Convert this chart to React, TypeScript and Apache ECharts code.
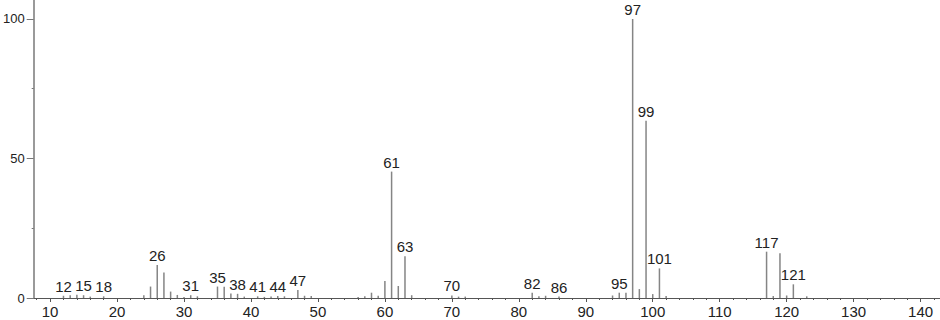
import React, { useEffect, useRef } from "react";
import * as echarts from "echarts";

// m/z values and relative intensities
const mzValues = [
  12, 13, 14, 15, 16, 18, 24, 25, 26, 27, 28, 29, 30, 31, 32, 35, 36, 37, 38, 39,
  41, 42, 43, 44, 45, 47, 48, 49, 56, 57, 58, 59, 60, 61, 62, 63, 64, 70, 71, 72,
  82, 83, 84, 86, 94, 95, 96, 97, 98, 99, 100, 101, 102, 117, 118, 119, 120, 121, 123,
];
const intensities = [
  0.8, 1.0, 1.2, 1.0, 0.5, 0.6, 1.0, 4.1, 11.8, 9.1, 2.3, 1.1, 0.4, 1.0, 0.6, 4.1, 4.0, 1.6, 1.5, 0.5,
  0.6, 0.4, 0.5, 0.7, 0.6, 2.9, 0.8, 0.7, 0.4, 0.6, 1.9, 0.8, 6.1, 45.3, 4.3, 15.0, 1.0, 0.9, 0.5, 0.5,
  1.9, 0.6, 0.8, 0.5, 0.9, 1.9, 1.9, 100, 3.2, 63.5, 1.4, 10.6, 0.7, 16.6, 0.7, 16.0, 0.9, 4.9, 0.6,
];
const labeledMz = [12, 15, 18, 26, 31, 35, 38, 41, 44, 47, 61, 63, 70, 82, 86, 95, 97, 99, 101, 117, 121];

const xTickLabels = [10, 20, 30, 40, 50, 60, 70, 80, 90, 100, 110, 120, 130, 140];
const yTickLabels = [0, 50, 100];
const yMinorTicks = [25, 75];

const X_MIN = 7.55;
const X_MAX = 142.9;
const Y_MAX = 106.8;

const xMinorTicks: number[] = [];
for (let v = 8; v <= 142; v += 2) {
  if (v % 10 !== 0) xMinorTicks.push(v);
}

const FONT = "'Liberation Sans', Arial, sans-serif";

export default function App() {
  const ref = useRef<HTMLDivElement>(null);
  useEffect(() => {
    if (!ref.current) return;
    const chart = echarts.init(ref.current, undefined, { renderer: "svg" });
    const data = mzValues.map((m, i) => ({
      value: [m, intensities[i]],
      label: { show: labeledMz.includes(m) },
    }));
    chart.setOption({
      animation: false,
      backgroundColor: "#ffffff",
      grid: { left: 29, right: 0, top: 0, bottom: 22, containLabel: false },
      xAxis: [
        {
          type: "value",
          min: X_MIN,
          max: X_MAX,
          axisLine: { show: true, lineStyle: { color: "#555", width: 1 } },
          axisTick: { show: true, length: 4, customValues: xTickLabels, lineStyle: { color: "#555" } },
          axisLabel: {
            customValues: xTickLabels,
            margin: 6,
            fontSize: 15,
            fontFamily: FONT,
            color: "#222",
          },
          splitLine: { show: false },
        },
        {
          type: "value",
          min: X_MIN,
          max: X_MAX,
          position: "bottom",
          axisLine: { show: false },
          axisTick: { show: true, length: 2, customValues: xMinorTicks, lineStyle: { color: "#555" } },
          axisLabel: { show: false },
          splitLine: { show: false },
        },
      ],
      yAxis: [
        {
          type: "value",
          min: 0,
          max: Y_MAX,
          axisLine: { show: true, lineStyle: { color: "#9a9a9a", width: 2 } },
          axisTick: { show: true, length: 7, customValues: yTickLabels, lineStyle: { color: "#777" } },
          axisLabel: {
            customValues: yTickLabels,
            margin: 9,
            fontSize: 13,
            fontFamily: FONT,
            color: "#222",
          },
          splitLine: { show: false },
        },
        {
          type: "value",
          min: 0,
          max: Y_MAX,
          position: "left",
          axisLine: { show: false },
          axisTick: { show: true, length: 2, customValues: yMinorTicks, lineStyle: { color: "#777" } },
          axisLabel: { show: false },
          splitLine: { show: false },
        },
      ],
      series: [
        {
          type: "bar",
          xAxisIndex: 0,
          yAxisIndex: 0,
          barWidth: 1.5,
          itemStyle: { color: "#858585" },
          label: {
            show: false,
            position: "top",
            distance: 2,
            fontSize: 15,
            fontFamily: FONT,
            color: "#222",
            formatter: (p: any) => String(p.value[0]),
          },
          data,
        },
      ],
    });
    return () => chart.dispose();
  }, []);
  return (
    <div
      ref={ref}
      style={{ position: "absolute", left: 0, top: 0, width: 940, height: 320 }}
    />
  );
}
